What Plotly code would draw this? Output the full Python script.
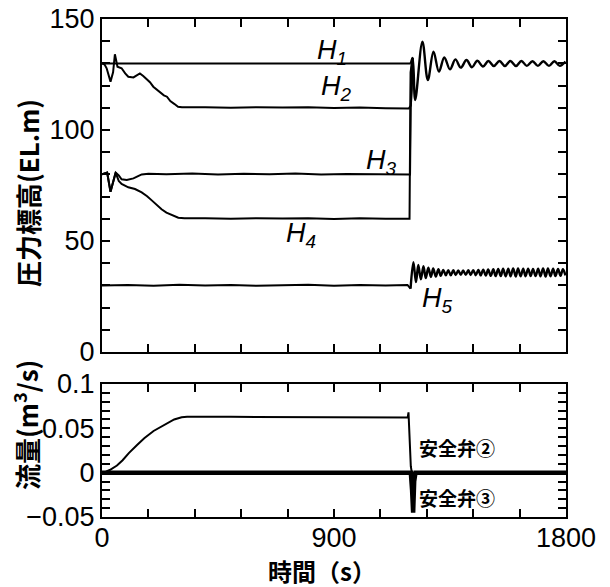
import plotly.graph_objects as go

# ---------------- data ----------------
# upper panel : pressure head (EL.m) vs time (s)
t_H1 = [0, 1198]
H1 = [130, 130]

t_H2 = [0, 10, 18, 33, 43, 50, 60, 76, 90, 102, 122, 135, 147, 160, 173, 186, 199,
        212, 225, 240, 252, 265, 280, 295, 310, 400, 500, 600, 700, 800, 900, 1000,
        1100, 1190, 1198, 1202, 1205]
H2 = [130, 129.5, 127.8, 121.8, 126, 134.1, 128.5, 127.8, 125.5, 124, 123.7, 124.8,
      125.5, 124.3, 122.8, 121.5, 119.5, 118.3, 116.8, 115.6, 115, 113, 111.8, 110.5,
      110.2, 110.3, 110.0, 110.3, 110.1, 110.2, 109.9, 110.1, 109.8, 109.7, 111, 118,
      132.5]

t_H3 = [0, 12, 20, 33, 43, 53, 65, 76, 96, 122, 140, 154, 180, 250, 350, 450, 550,
        650, 750, 850, 950, 1050, 1150, 1192, 1195, 1199, 1205]
H3 = [80, 80.5, 80.8, 72.2, 77, 80.8, 79.5, 77.8, 77.5, 78.2, 79.2, 80.0, 80.3, 80.1,
      80.4, 80.0, 80.3, 80.1, 80.4, 80.0, 80.2, 80.1, 80.3, 80.2, 80.0, 126, 132.5]

t_H4 = [0, 12, 20, 33, 43, 53, 65, 76, 102, 128, 154, 175, 193, 212, 231, 250, 270,
        285, 296, 320, 400, 500, 600, 700, 800, 900, 1000, 1100, 1190, 1193, 1197, 1205]
H4 = [80, 80.5, 80.8, 72.2, 77, 80.8, 77, 75.7, 74.2, 73.4, 71.9, 70.2, 68.3, 66.3,
      64.3, 62.8, 61.7, 60.9, 60.5, 60.2, 60.3, 60.0, 60.3, 60.1, 60.2, 59.9, 60.2,
      60.0, 59.8, 60.0, 126, 132.5]

# common oscillation of H1..H4 after the valve operation
t_Hpost = [1198, 1205, 1215, 1243, 1264, 1286, 1307, 1328, 1350, 1371, 1392, 1414,
           1435, 1456, 1478, 1499, 1520, 1542, 1563, 1584, 1606, 1627, 1648, 1670,
           1691, 1712, 1734, 1755, 1776, 1798]
H_post = [130, 132.5, 113.5, 139.8, 122.5, 135.3, 126.3, 132.7, 127.3, 131.8, 128.1,
          131.5, 128.3, 131.2, 128.6, 131.1, 128.8, 131.1, 128.8, 131.1, 128.8, 131.1,
          128.9, 131.0, 128.9, 131.0, 128.9, 131.0, 128.9, 130.8]

t_H5 = [0, 100, 200, 300, 400, 500, 600, 700, 800, 900, 1000, 1100, 1185, 1197]
H5 = [30, 30.2, 29.9, 30.3, 30.0, 30.2, 29.8, 30.1, 30.3, 29.9, 30.2, 30.0, 30.2, 28.5]

t_H5post = [1197, 1208, 1218, 1227, 1237, 1247, 1256, 1266, 1276, 1285, 1295, 1305,
            1314, 1324, 1334, 1343, 1353, 1363, 1372, 1382, 1392, 1401, 1411, 1421,
            1430, 1440, 1450, 1460, 1469, 1479, 1489, 1498, 1508, 1518, 1527, 1537,
            1547, 1556, 1566, 1576, 1585, 1595, 1605, 1614, 1624, 1634, 1643, 1653,
            1663, 1672, 1682, 1692, 1701, 1711, 1721, 1730, 1740, 1750, 1759, 1769,
            1779, 1788, 1798]
H5_post = [28.5, 40.5, 31.5, 39.2, 32.7, 38.6, 33.3, 38.0, 33.8, 37.6, 34.0, 37.3,
           34.3, 37.0, 34.5, 36.9, 34.6, 36.8, 34.7, 36.7, 34.8, 36.7, 34.8, 36.8,
           34.7, 36.9, 34.6, 37.0, 34.5, 37.1, 34.4, 37.2, 34.3, 37.3, 34.2, 37.4,
           34.2, 37.5, 34.1, 37.5, 34.1, 37.6, 34.0, 37.6, 34.1, 37.5, 34.1, 37.5,
           34.2, 37.4, 34.2, 37.5, 34.1, 37.6, 34.0, 37.6, 34.1, 37.5, 34.2, 37.4,
           34.3, 37.3, 34.5]

# lower panel : discharge (m3/s) of safety valves
t_Q2 = [0, 15, 30, 58, 80, 104, 135, 165, 200, 241, 280, 309, 330, 500, 700, 900,
        1100, 1186, 1189, 1192, 1195, 1198, 1202, 1800]
Q2 = [0, 0.001, 0.003, 0.008, 0.014, 0.022, 0.031, 0.039, 0.047, 0.054, 0.060,
      0.0625, 0.063, 0.063, 0.0628, 0.0627, 0.0625, 0.0623, 0.068, 0.045, 0.02,
      0.007, 0, 0]

t_Q3 = [0, 1198, 1203, 1207, 1211, 1216, 1800]
Q3 = [0, 0, -0.02, -0.045, -0.01, 0, 0]

# ticks
x_tickvals = [0, 180, 360, 540, 720, 900, 1080, 1260, 1440, 1620, 1800]
x_ticktext = ['0', '', '', '', '', '900', '', '', '', '', '1800']
y1_tickvals = [0, 10, 20, 30, 40, 50, 60, 70, 80, 90, 100, 110, 120, 130, 140, 150]
y1_ticktext = ['0', '', '', '', '', '50', '', '', '', '', '100', '', '', '', '', '150']
y2_tickvals = [-0.05, -0.04, -0.03, -0.02, -0.01, 0, 0.01, 0.02, 0.03, 0.04, 0.05,
               0.06, 0.07, 0.08, 0.09, 0.1]
y2_ticktext = ['\u22120.05', '', '', '', '', '0', '', '', '', '', '0.05', '', '', '', '', '0.1']

# ---------------- figure ----------------
LW = 2
line = dict(color='black', width=LW)
fig = go.Figure()
for tx, vy in [(t_H1, H1), (t_H2, H2), (t_H3, H3), (t_H4, H4), (t_H5, H5)]:
    fig.add_trace(go.Scatter(x=tx, y=vy, mode='lines', line=line,
                             xaxis='x', yaxis='y', showlegend=False))
fig.add_trace(go.Scatter(x=t_Hpost, y=H_post, mode='lines',
                         line=dict(color='black', width=2.4, shape='spline', smoothing=1),
                         xaxis='x', yaxis='y', showlegend=False))
fig.add_trace(go.Scatter(x=t_H5post, y=H5_post, mode='lines',
                         line=dict(color='black', width=2.4, shape='spline', smoothing=1),
                         xaxis='x', yaxis='y', showlegend=False))
fig.add_trace(go.Scatter(x=t_Q2, y=Q2, mode='lines', line=line,
                         xaxis='x2', yaxis='y2', showlegend=False))
fig.add_trace(go.Scatter(x=t_Q3, y=Q3, mode='lines', line=dict(color='black', width=4.5),
                         xaxis='x2', yaxis='y2', showlegend=False))

ax_common = dict(showline=True, linewidth=2, linecolor='black', mirror='ticks',
                 ticks='inside', ticklen=8, tickwidth=2, tickcolor='black',
                 showgrid=False, zeroline=False, automargin=False)

fig.update_layout(
    width=610, height=587, autosize=False,
    margin=dict(l=102, r=44, t=19, b=70, autoexpand=False),
    paper_bgcolor='white', plot_bgcolor='white',
    font=dict(family='Liberation Sans, Arial, sans-serif', size=27, color='black'),
    xaxis=dict(domain=[0, 1], anchor='y', range=[0, 1800], tickmode='array',
               tickvals=x_tickvals, ticktext=x_ticktext, showticklabels=False, **ax_common),
    yaxis=dict(domain=[0.3313, 1], anchor='x', range=[0, 150], tickmode='array',
               tickvals=y1_tickvals, ticktext=y1_ticktext, **ax_common),
    xaxis2=dict(domain=[0, 1], anchor='y2', range=[0, 1800], tickmode='array',
                tickvals=x_tickvals, ticktext=x_ticktext, ticklabelstandoff=-4, **ax_common),
    yaxis2=dict(domain=[0, 0.2671], anchor='x2', range=[-0.05, 0.1], tickmode='array',
                tickvals=y2_tickvals, ticktext=y2_ticktext, **ax_common),
)

cjk = 'Noto Sans CJK JP'
ann = []
ann.append(dict(text='<b>圧力標高(EL.m)</b>', xref='paper', yref='paper', x=-0.1616, y=0.6506,
                xanchor='center', yanchor='middle',
                textangle=-90, showarrow=False, font=dict(family=cjk, size=26)))
ann.append(dict(text='<b>流量(m<sup>3</sup>/s)</b>', xref='paper', yref='paper', x=-0.166, y=0.1847,
                xanchor='center', yanchor='middle',
                textangle=-90, showarrow=False, font=dict(family=cjk, size=26)))
ann.append(dict(text='<b>時間（s）</b>', xref='paper', yref='paper', x=0.474, y=-0.1084,
                xanchor='center', yanchor='middle',
                showarrow=False, font=dict(family=cjk, size=24)))
hfont = dict(family='Liberation Sans, Arial, sans-serif', size=27)
for txt, xx, yy in [('1', 892, 135.1), ('2', 908, 118.9), ('3', 1086, 85.6),
                    ('4', 772, 52.7), ('5', 1303, 23.4)]:
    ann.append(dict(text='<i>H<sub>' + txt + '</sub></i>', xref='x', yref='y', x=xx, y=yy,
                    xanchor='center', yanchor='middle', showarrow=False, font=hfont))
for txt, yy in [('安全弁②', 0.028), ('安全弁③', -0.028)]:
    ann.append(dict(text='<b>' + txt + '</b>', xref='x2', yref='y2', x=1377, y=yy,
                    xanchor='center', yanchor='middle',
                    showarrow=False, font=dict(family=cjk, size=19)))
fig.update_layout(annotations=ann)

fig.write_html('out.html', config={'displayModeBar': False},
               post_script="document.body.style.margin='0px';document.body.style.padding='0px';")
